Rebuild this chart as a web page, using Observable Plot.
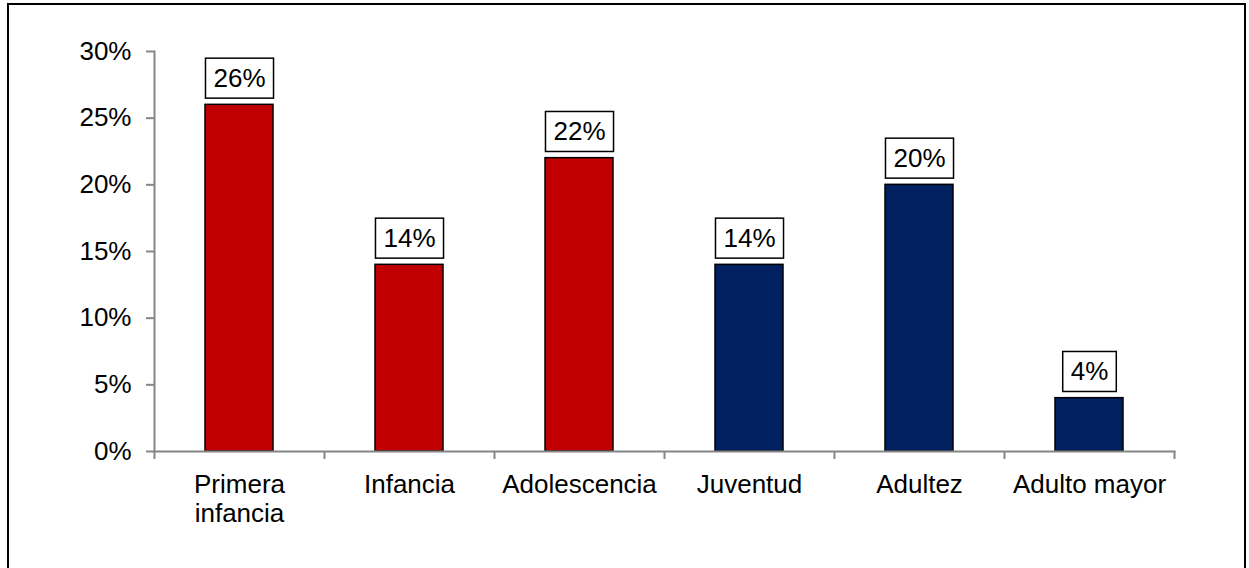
<!DOCTYPE html>
<html>
<head>
<meta charset="utf-8">
<script src="https://cdn.jsdelivr.net/npm/d3@7"></script>
<script src="https://cdn.jsdelivr.net/npm/@observablehq/plot@0.6"></script>
<style>
  html, body { margin: 0; padding: 0; background: white; overflow: hidden; }
  #wrap { position: relative; width: 1249px; height: 568px; overflow: hidden; }
  #border { position: absolute; left: 7px; top: 3px; width: 1239px; height: 700px; box-sizing: border-box; border: 2px solid black; }
  #chart { position: absolute; left: 0; top: 0; }
</style>
</head>
<body>
<div id="wrap"><div id="border"></div><div id="chart"></div></div>
<script>
const categories = ["Primera infancia", "Infancia", "Adolescencia", "Juventud", "Adultez", "Adulto mayor"];
const xLabels = ["Primera\ninfancia", "Infancia", "Adolescencia", "Juventud", "Adultez", "Adulto mayor"];
const values = [0.26, 0.14, 0.22, 0.14, 0.20, 0.04];
const groups = ["Menores", "Menores", "Menores", "Mayores", "Mayores", "Mayores"];
const yTicks = [0, 0.05, 0.10, 0.15, 0.20, 0.25, 0.30];

const data = categories.map((c, i) => ({category: c, value: values[i], group: groups[i]}));

const W = 1249, H = 568, mL = 154, mR = 75, mT = 51, mB = 117;
const step = (W - mL - mR) / categories.length;
const pct = d3.format(".0%");
const axisGray = "#868686";
const font = "'Liberation Sans', Arial, sans-serif";
const fs = 26;

const plot = Plot.plot({
  width: W, height: H,
  marginLeft: mL, marginRight: mR, marginTop: mT, marginBottom: mB,
  style: {fontFamily: font, fontSize: fs + "px", color: "black", background: "transparent", overflow: "visible"},
  x: {domain: categories, paddingInner: 0.6, paddingOuter: 0.3, label: null},
  y: {domain: [0, 0.3], label: null},
  color: {domain: ["Menores", "Mayores"], range: ["#C00000", "#002060"]},
  marks: [
    Plot.axisY({ticks: yTicks, tickFormat: pct, tickSize: 8, tickPadding: 15, stroke: axisGray, strokeWidth: 2, fill: "black", fontSize: fs, label: null}),
    Plot.frame({anchor: "left", stroke: axisGray, strokeWidth: 2}),
    Plot.axisX({tickSize: 0, tickPadding: 22, tickFormat: d => xLabels[categories.indexOf(d)], fill: "black", fontSize: fs, lineHeight: 1.08, label: null}),
    Plot.axisX({ticks: categories, tickSize: 8, dx: -step / 2, tickFormat: () => "", stroke: axisGray, strokeWidth: 2, label: null}),
    Plot.axisX({ticks: [categories[categories.length - 1]], tickSize: 8, dx: step / 2, tickFormat: () => "", stroke: axisGray, strokeWidth: 2, label: null}),
    Plot.barY(data, {x: "category", y: "value", fill: "group", stroke: "black", strokeWidth: 1.5}),
    Plot.frame({anchor: "bottom", stroke: axisGray, strokeWidth: 2}),
    Plot.text(data, {x: "category", y: "value", text: d => pct(d.value), dy: -26, lineAnchor: "middle", fontSize: fs, fill: "black"})
  ]
});

document.getElementById("chart").appendChild(plot);

// white boxes with black border behind value labels
plot.querySelectorAll('g[aria-label="text"] text').forEach(t => {
  const b = t.getBBox();
  const rect = document.createElementNS("http://www.w3.org/2000/svg", "rect");
  const padX = 8, h = 40;
  rect.setAttribute("x", b.x - padX);
  rect.setAttribute("y", b.y + b.height / 2 - h / 2);
  rect.setAttribute("width", b.width + 2 * padX);
  rect.setAttribute("height", h);
  rect.setAttribute("fill", "white");
  rect.setAttribute("stroke", "black");
  rect.setAttribute("stroke-width", "1.5");
  const tr = t.getAttribute("transform");
  if (tr) rect.setAttribute("transform", tr);
  t.parentNode.insertBefore(rect, t);
});
</script>
</body>
</html>
